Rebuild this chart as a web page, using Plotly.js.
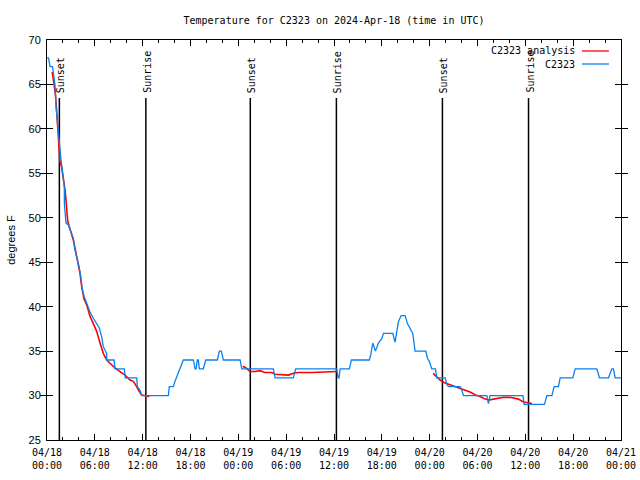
<!DOCTYPE html>
<html>
<head>
<meta charset="utf-8">
<script src="https://cdn.plot.ly/plotly-3.0.1.min.js"></script>
<style>html,body{margin:0;padding:0;background:#fff;}#chart{width:640px;height:480px;}</style>
</head>
<body>
<div id="chart"></div>
<script>
// Hours since 2024-04-18 00:00 UTC
const obsHours = [0,0.19,0.29,0.38,0.69,0.79,1.0,1.13,1.32,1.42,1.57,1.76,1.97,2.17,2.18,2.38,2.67,3.01,3.30,3.51,3.73,4.02,4.23,4.43,4.68,5.06,5.40,5.81,6.24,6.56,6.86,7.06,7.28,7.49,7.50,8.41,8.53,9.70,9.82,11.25,11.33,11.67,11.88,15.22,15.34,15.85,16.06,16.27,16.60,16.90,17.10,18.36,18.57,18.70,18.86,18.98,19.11,19.61,19.91,21.37,21.62,21.87,22.12,24.22,24.43,28.39,28.61,30.90,31.20,36.35,36.51,36.64,36.76,37.93,38.18,40.44,40.61,40.87,41.19,41.57,42.0,42.20,43.37,43.66,43.88,44.08,44.42,44.92,45.21,45.55,45.88,46.17,47.52,47.72,47.97,48.27,48.72,48.89,49.94,50.15,50.35,51.82,52.03,52.23,55.17,55.37,55.58,59.69,59.85,62.40,62.70,63.33,63.61,64.15,64.37,65.96,66.25,68.97,69.30,70.43,70.85,71.05,71.27,72.0];
const obsTemps = [68,68,67.5,67,67,66.4,65,62.5,60.5,59.1,58,56.5,55,53.5,51.6,49.4,49.2,48.3,47.7,46.4,45.6,44.5,43.4,41.9,41.1,40.2,39.4,38.7,38.1,37.6,36.6,35.5,35.1,34.75,34,34,33,33,32,32,31,30.6,30,30,31,31,31.6,32.1,32.9,33.4,34,34,33,33,34,34,33,33,34,34,35,35,34,34,33,33,32,32,33,33,32,32,33,33,34,34,34.6,35.9,35,35.9,36.4,37,37,36,37.4,38.3,39,39,38.1,37.6,37,35,35,34.2,33.8,33,33,32,32,31.3,31,31,30.6,30,30,29.1,30,30,29,29,30,30,31,31,32,32,33,33,32,32,33,33,32,32];

const anaHours = [0.66,0.92,1.07,1.19,1.34,1.42,1.57,1.63,1.84,1.97,2.26,2.38,2.47,2.60,2.80,3.10,3.30,3.51,3.73,3.93,4.14,4.35,4.64,4.98,5.40,5.81,6.24,6.65,7.06,7.49,7.90,8.53,9.16,9.79,10.41,10.83,11.25,11.46,11.88,12.42,12.84,
  18.0,
  24.55,24.97,25.47,26.10,26.73,27.35,28.19,28.61,30.28,30.90,31.53,33.21,36.35,
  42.0,
  48.43,48.68,49.31,49.94,50.56,51.19,51.82,52.45,53.07,53.70,54.33,54.96,55.50,56.0,56.63,57.25,58.09,58.72,59.13,59.69,60.19,60.82];
const anaTemps = [66.4,65.0,63.8,62.3,60.1,58.8,57.5,56.3,55.7,55,53.1,52,50.9,49.6,49,48.25,47.5,46.6,45.6,44.9,43.75,42.25,40.9,40.2,38.9,38.1,37.2,35.9,34.75,34.0,33.6,33.1,32.7,32.3,31.75,31.6,31.0,30.6,30.06,29.95,29.9,
  null,
  33.3,33.1,32.7,32.7,32.8,32.6,32.6,32.4,32.3,32.5,32.6,32.6,32.7,
  null,
  32.5,32.3,31.75,31.4,31.2,31.0,30.8,30.55,30.4,30.1,29.9,29.6,29.5,29.6,29.7,29.8,29.8,29.7,29.6,29.3,29.2,29.1];

const sunHours = [1.55, 12.4, 25.5, 36.3, 49.6, 60.4];
const sunLabels = ['Sunset','Sunrise','Sunset','Sunrise','Sunset','Sunrise'];
const seriesNames = ['C2323 analysis','C2323'];
const seriesColors = ['#ff0000','#0a80f0'];

function toDate(h){
  const d = new Date(Date.UTC(2024,3,18) + Math.round(h*3600000));
  return d.toISOString().slice(0,19).replace('T',' ');
}

const mono = 'DejaVu Sans Mono';
const sans = 'Liberation Sans, Arial, sans-serif';

const obsX = obsHours.map(toDate);
const traces = [
  {x: anaHours.map(toDate), y: anaTemps, mode:'lines', name: seriesNames[0],
   line:{color:seriesColors[0], width:1.6}, connectgaps:false, hoverinfo:'skip'},
  {x: obsX, y: obsTemps, mode:'lines', name: seriesNames[1],
   line:{color:seriesColors[1], width:1.3}, hoverinfo:'skip'},
  // invisible carrier so the second (time-of-day) label row axis is drawn
  {x: obsX, y: obsTemps, xaxis:'x2', mode:'lines', line:{color:'rgba(0,0,0,0)', width:0}, opacity:0, hoverinfo:'skip', showlegend:false}
];

const shapes = sunHours.map(h => ({type:'line', xref:'x', yref:'paper', x0:toDate(h), x1:toDate(h), y0:0, y1:0.855,
  line:{color:'#000', width:1.5}, layer:'below'}));
const annotations = sunHours.map((h,i) => ({x:toDate(h), xref:'x', yref:'paper', y:0.8625, yanchor:'bottom', xanchor:'center',
  xshift:2, text:sunLabels[i], textangle:-90, showarrow:false, font:{family:mono, size:10, color:'#000'}}));

// manual gnuplot-style key
const keyY = [0.9725, 0.94];
seriesNames.forEach((n,i) => {
  annotations.push({x:0.9235, y:keyY[i], xref:'paper', yref:'paper', xanchor:'right', yanchor:'middle',
    text:n, showarrow:false, font:{family:mono, size:10, color:'#000'}});
  shapes.push({type:'line', xref:'paper', yref:'paper', x0:0.932, x1:0.979, y0:keyY[i], y1:keyY[i],
    line:{color:seriesColors[i], width:1.3}});
});

const xRange = [toDate(0), toDate(72)];
const layout = {
  width:640, height:480,
  margin:{l:47, r:19, t:40, b:40},
  paper_bgcolor:'#fff', plot_bgcolor:'#fff',
  showlegend:false,
  title:{text:'Temperature for C2323 on 2024-Apr-18 (time in UTC)', font:{family:mono, size:10, color:'#000'},
    x:0.5, xref:'paper', xanchor:'center', y:1-20/480, yref:'container', yanchor:'middle'},
  xaxis:{type:'date', range:xRange, dtick:21600000, tick0:toDate(0), tickformat:'%m/%d',
    ticks:'inside', ticklen:6, tickcolor:'#000', tickwidth:1, showline:true, linecolor:'#000', linewidth:1, mirror:'allticks',
    showgrid:false, zeroline:false, tickfont:{family:mono, size:10, color:'#000'}, ticklabelstandoff:3,
    minor:{dtick:7200000, ticks:'inside', ticklen:3, tickcolor:'#000', showgrid:false}},
  xaxis2:{type:'date', range:xRange, dtick:21600000, tick0:toDate(0), tickformat:'%H:%M', overlaying:'x', anchor:'y', side:'bottom',
    ticks:'', showline:false, showgrid:false, zeroline:false, tickfont:{family:mono, size:10, color:'#000'}, ticklabelstandoff:18},
  yaxis:{range:[25,70], dtick:5, tick0:25, ticks:'inside', ticklen:6, tickcolor:'#000', showline:true, linecolor:'#000', linewidth:1,
    mirror:'allticks', showgrid:false, zeroline:false, tickfont:{family:sans, size:11, color:'#000'}, ticklabelstandoff:3,
    title:{text:'degrees F', font:{family:sans, size:11, color:'#000'}, standoff:10}},
  shapes: shapes,
  annotations: annotations
};

Plotly.newPlot('chart', traces, layout, {staticPlot:true, displayModeBar:false});
</script>
</body>
</html>
